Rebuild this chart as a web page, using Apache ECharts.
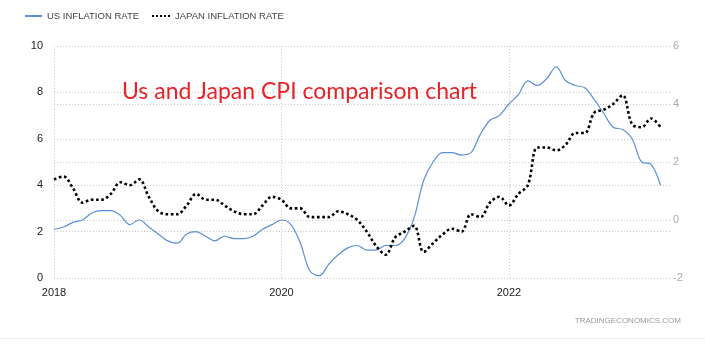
<!DOCTYPE html>
<html>
<head>
<meta charset="utf-8">
<script src="https://cdn.jsdelivr.net/npm/echarts@6/dist/echarts.min.js"></script>
<style>html,body{margin:0;padding:0;background:#fff;}#c{width:705px;height:350px;}</style>
</head>
<body>
<div id="c"></div>
<script>
// Monthly, Jan 2018 .. May 2023
const months = [];
for (let y = 2018; y <= 2023; y++) {
  for (let m = 1; m <= 12; m++) {
    if (y === 2023 && m > 5) break;
    months.push(y + '-' + (m < 10 ? '0' + m : m));
  }
}
const usInflation = [
  2.1, 2.2, 2.4, 2.5, 2.8, 2.9, 2.9, 2.7, 2.3, 2.5, 2.2, 1.9,
  1.6, 1.5, 1.9, 2.0, 1.8, 1.6, 1.8, 1.7, 1.7, 1.8, 2.1, 2.3,
  2.5, 2.3, 1.5, 0.3, 0.1, 0.6, 1.0, 1.3, 1.4, 1.2, 1.2, 1.4,
  1.4, 1.7, 2.6, 4.2, 5.0, 5.4, 5.4, 5.3, 5.4, 6.2, 6.8, 7.0,
  7.5, 7.9, 8.5, 8.3, 8.6, 9.1, 8.5, 8.3, 8.2, 7.7, 7.1, 6.5,
  6.4, 6.0, 5.0, 4.9, 4.0
];
const japanInflation = [
  1.4, 1.5, 1.1, 0.6, 0.7, 0.7, 0.9, 1.3, 1.2, 1.4, 0.8, 0.3,
  0.2, 0.2, 0.5, 0.9, 0.7, 0.7, 0.5, 0.3, 0.2, 0.2, 0.5, 0.8,
  0.7, 0.4, 0.4, 0.1, 0.1, 0.1, 0.3, 0.2, 0.0, -0.4, -0.9, -1.2,
  -0.6, -0.4, -0.2, -1.1, -0.8, -0.5, -0.3, -0.4, 0.2, 0.1, 0.6, 0.8,
  0.5, 0.9, 1.2, 2.5, 2.5, 2.4, 2.6, 3.0, 3.0, 3.7, 3.8, 4.0,
  4.3, 3.3, 3.2, 3.5, 3.2
];
const leftTicks = { min: 0, max: 10, interval: 2 };
const rightTicks = { min: -2, max: 6, interval: 2 };
const seriesNames = ['US INFLATION RATE', 'JAPAN INFLATION RATE'];
const chartTitle = 'Us and Japan CPI comparison chart';
const usColor = '#5b90d6';

const chart = echarts.init(document.getElementById('c'), null, { renderer: 'canvas' });
const gridLine = { show: true, lineStyle: { color: '#c8c8c8', type: [1, 2], width: 1 } };
chart.setOption({
  animation: false,
  backgroundColor: '#fff',
  textStyle: { fontFamily: 'Liberation Sans, Arial, sans-serif' },
  title: {
    text: chartTitle,
    left: 117, top: 75,
    textStyle: { color: '#ea2227', fontSize: 23, fontWeight: 'normal', fontFamily: 'Lato' }
  },
  grid: { left: 54, right: 35, top: 46, bottom: 72 },
  xAxis: {
    type: 'category',
    data: months,
    boundaryGap: false,
    max: months.length,
    axisLine: { show: false },
    axisTick: { show: false },
    axisLabel: {
      interval: 23, margin: 9, color: '#222', fontSize: 11,
      formatter: v => v ? v.slice(0, 4) : ''
    },
    splitLine: Object.assign({ interval: 23 }, gridLine)
  },
  yAxis: [
    {
      type: 'value', min: leftTicks.min, max: leftTicks.max, interval: leftTicks.interval,
      axisLine: { show: false }, axisTick: { show: false },
      axisLabel: { color: '#222', fontSize: 11, margin: 11 },
      splitLine: gridLine
    },
    {
      type: 'value', min: rightTicks.min, max: rightTicks.max, interval: rightTicks.interval,
      position: 'right',
      axisLine: { show: false }, axisTick: { show: false },
      axisLabel: { color: '#aaa', fontSize: 11, margin: 3 },
      splitLine: gridLine
    }
  ],
  series: [
    {
      name: seriesNames[0], type: 'line', yAxisIndex: 0, data: usInflation,
      smooth: 0.35, showSymbol: false, symbol: 'none',
      lineStyle: { color: usColor, width: 1.2 },
      itemStyle: { color: usColor }
    },
    {
      name: seriesNames[1], type: 'line', yAxisIndex: 1, data: japanInflation,
      smooth: 0.35, showSymbol: false, symbol: 'none',
      lineStyle: { color: '#000', width: 2.6, type: [2.6, 2.6] },
      itemStyle: { color: '#000' }
    }
  ],
  graphic: [
    { type: 'line', shape: { x1: 25, y1: 16, x2: 42, y2: 16 }, style: { stroke: usColor, lineWidth: 2 } },
    { type: 'text', left: 47, top: 11, style: { text: seriesNames[0], fill: '#444', fontSize: 9.5, fontFamily: 'Liberation Sans, Arial' } },
    { type: 'line', shape: { x1: 152, y1: 16, x2: 170, y2: 16 }, style: { stroke: '#000', lineWidth: 2, lineDash: [2, 2] } },
    { type: 'text', left: 175, top: 11, style: { text: seriesNames[1], fill: '#444', fontSize: 9.5, fontFamily: 'Liberation Sans, Arial' } },
    { type: 'text', right: 24, top: 317, style: { text: 'TRADINGECONOMICS.COM', fill: '#999', fontSize: 8, fontFamily: 'Liberation Sans, Arial' } },
    { type: 'line', shape: { x1: 0, y1: 338.5, x2: 705, y2: 338.5 }, style: { stroke: '#ececec', lineWidth: 1 } }
  ]
});
</script>
</body>
</html>
